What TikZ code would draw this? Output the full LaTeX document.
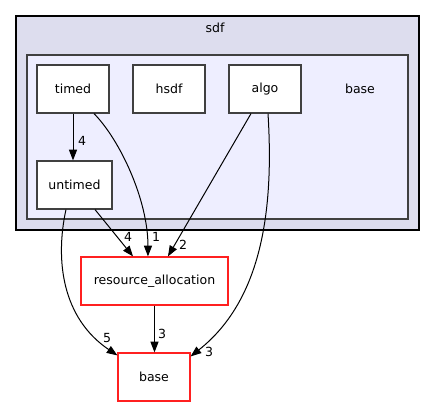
\documentclass[tikz,border=0pt]{standalone}
\usepackage{fontspec}
\setmainfont{DejaVu Sans}
\usetikzlibrary{arrows.meta}
\definecolor{sdffill}{HTML}{DDDDEE}
\definecolor{basefill}{HTML}{EEEEFF}
\definecolor{dirline}{HTML}{404040}
\definecolor{extline}{HTML}{FF2020}

\begin{document}
\begin{tikzpicture}[x=0.75pt,y=-0.75pt,
    font=\fontsize{9.4}{11}\selectfont,
    dir/.style={draw=dirline,fill=white,line width=0.9pt,minimum width=54pt,minimum height=36pt,inner sep=0pt},
    extdir/.style={dir,draw=extline},
    dep/.style={-{Triangle[length=8pt,width=6pt]},line width=0.75pt},
    num/.style={inner sep=0pt}]
\useasboundingbox (0,0) rectangle (435,407);
% sdf
\draw[fill=sdffill,line width=0.8pt] (16,16) rectangle (419,230);
\node (sdf) at (215,28) {sdf};
% sdf/base
\draw[fill=basefill,draw=dirline,line width=1.1pt] (27,55) rectangle (408,219);
\node (baselbl) at (360,89) {base};
\node[dir] (timed) at (73,89) {timed};
\node[dir] (hsdf) at (169,89) {hsdf};
\node[dir] (algo) at (265,89) {algo};
\node[dir,minimum width=56.25pt] (untimed) at (74.5,185) {untimed};
% outside
\node[extdir,minimum width=110.25pt] (ra) at (154.5,281) {resource\_allocation};
\node[extdir] (base) at (154,377) {base};
% dependencies
\draw[dep] (timed.south) -- (timed.south |- untimed.north);
\draw[dep] ([xshift=15.75pt]timed.south) .. controls (120,140) and (148,200) .. ([xshift=-4.9pt]ra.north);
\draw[dep] ([xshift=-10.5pt]algo.south) -- ([xshift=10.1pt]ra.north);
\draw[dep] ([xshift=2.25pt]algo.south) .. controls (274,210) and (262,300) .. ([yshift=-3pt]base.north east);
\draw[dep] ([xshift=15.4pt]untimed.south) -- ([xshift=-16.1pt]ra.north);
\draw[dep] ([xshift=-6.4pt]untimed.south) .. controls (55,260) and (62,318) .. ([yshift=-2.25pt]base.north west);
\draw[dep] (ra.south) -- (ra.south |- base.north);
% counts
\node[num] (n1) at (82,141) {4};
\node[num] (n2) at (156,237) {1};
\node[num] (n3) at (128,237) {4};
\node[num] (n4) at (183,245) {2};
\node[num] (n5) at (162,334) {3};
\node[num] (n6) at (107,338) {5};
\node[num] (n7) at (209,352) {3};
\end{tikzpicture}
\end{document}
